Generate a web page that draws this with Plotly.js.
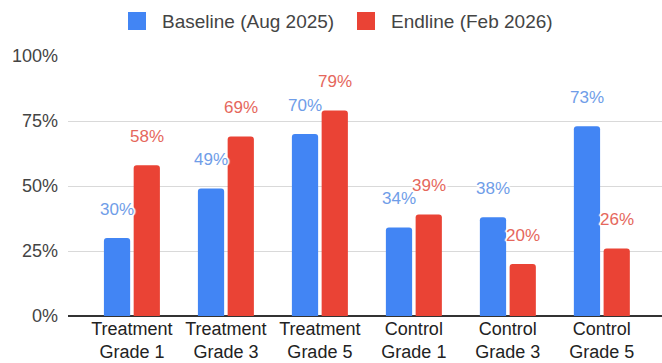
<!DOCTYPE html>
<html>
<head>
<meta charset="utf-8">
<script src="https://cdn.plot.ly/plotly-3.0.1.min.js"></script>
<style>html,body{margin:0;padding:0;background:#fff;}#chart{width:662px;height:363px;}</style>
</head>
<body>
<div id="chart"></div>
<script>
const categories = ["Treatment<br>Grade 1", "Treatment<br>Grade 3", "Treatment<br>Grade 5", "Control<br>Grade 1", "Control<br>Grade 3", "Control<br>Grade 5"];
const baseline = [30, 49, 70, 34, 38, 73];
const endline = [58, 69, 79, 39, 20, 26];
const seriesNames = ["Baseline (Aug 2025)", "Endline (Feb 2026)"];
const yTickVals = [0, 25, 50, 75, 100];
const yTickText = ["0%", "25%", "50%", "75%", "100%"];

const FONT = "Liberation Sans, Arial, sans-serif";
const BLUE = "#4285f4", RED = "#ea4335";
const BLUE_TXT = "#6f9de8", RED_TXT = "#e5675c";
const colors = [BLUE, RED];

const W = 662, H = 363, ML = 68, MR = 0, MT = 56, MB = 47;
const PW = W - ML - MR, PH = H - MT - MB;
const px2x = p => (p - ML) / PW;
const py2y = p => (H - MB - p) / PH;

const traces = [
  {type: "bar", name: seriesNames[0], x: categories, y: baseline, marker: {color: BLUE}, hoverinfo: "none", showlegend: false},
  {type: "bar", name: seriesNames[1], x: categories, y: endline, marker: {color: RED}, hoverinfo: "none", showlegend: false}
];

const halo = "1px 1px 1px #fff, -1px -1px 1px #fff, 1px -1px 1px #fff, -1px 1px 1px #fff, 0 2px 1px #fff, 0 -2px 1px #fff, 2px 0 1px #fff, -2px 0 1px #fff";
const annotations = [];
[[baseline, -15, BLUE_TXT], [endline, 15, RED_TXT]].forEach(([vals, dx, col]) => {
  vals.forEach((v, i) => {
    annotations.push({
      x: categories[i], y: v, xref: "x", yref: "y",
      text: v + "%", showarrow: false, xshift: dx, yshift: 29,
      yanchor: "middle", xanchor: "center",
      font: {family: FONT, size: 17, color: col, shadow: halo}
    });
  });
});

// manual legend (larger squares like the reference)
const legendItems = [{sq: 128, tx: 160}, {sq: 357, tx: 389}];
const shapes = [];
legendItems.forEach((it, k) => {
  shapes.push({type: "rect", xref: "paper", yref: "paper",
    x0: px2x(it.sq), x1: px2x(it.sq + 18), y0: py2y(30), y1: py2y(12),
    fillcolor: colors[k], line: {width: 0}});
  annotations.push({xref: "paper", yref: "paper", x: px2x(it.tx), y: py2y(21),
    xanchor: "left", yanchor: "middle", showarrow: false, text: seriesNames[k],
    font: {family: FONT, size: 19, color: "#444"}});
});

const layout = {
  width: W, height: H,
  margin: {l: ML, r: MR, t: MT, b: MB},
  paper_bgcolor: "#fff", plot_bgcolor: "#fff",
  barmode: "group", bargap: 0.367, bargroupgap: 0.118,
  barcornerradius: 3,
  font: {family: FONT, size: 17, color: "#444"},
  showlegend: false,
  xaxis: {type: "category", range: [-0.68, 5.64], showgrid: false, showline: false, ticks: "",
          tickfont: {family: FONT, size: 18, color: "#222"}, ticklabelstandoff: 0, fixedrange: true},
  yaxis: {range: [0, 100], tickvals: yTickVals, ticktext: yTickText, showgrid: true, gridcolor: "#d9d9d9", gridwidth: 1,
          zeroline: true, zerolinecolor: "#333", zerolinewidth: 1.5, showline: false, ticks: "",
          tickfont: {family: FONT, size: 18, color: "#444"}, ticklabelstandoff: 9, fixedrange: true},
  shapes: shapes,
  annotations: annotations
};

Plotly.newPlot("chart", traces, layout, {displayModeBar: false, staticPlot: true});
</script>
</body>
</html>
